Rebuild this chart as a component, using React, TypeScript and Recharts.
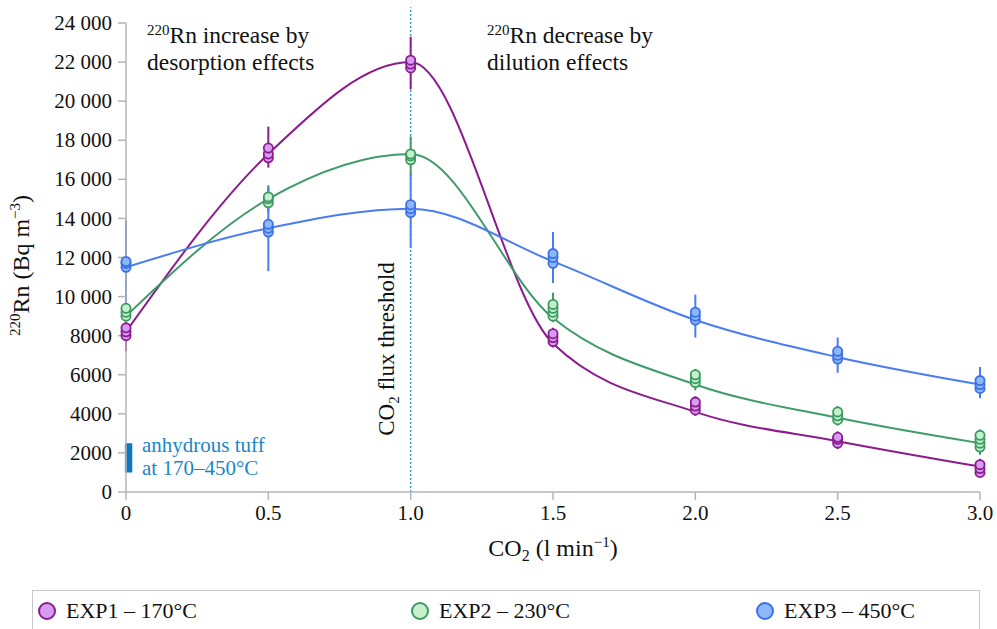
import React from "react";
import {
  ComposedChart,
  Line,
  Scatter,
  ErrorBar,
  XAxis,
  YAxis,
  ReferenceLine,
  ReferenceArea,
  Label,
} from "recharts";

// CO2 flow steps (l/min) and 220Rn activity (Bq/m3).
const CO2_FLOW = [0, 0.5, 1.0, 1.5, 2.0, 2.5, 3.0];
const Y_TICKS = [0, 2000, 4000, 6000, 8000, 10000, 12000, 14000, 16000, 18000, 20000, 22000, 24000];

// fitted curve values at each flow step
const EXP1_FIT = [8200, 17300, 22000, 7600, 4100, 2600, 1300];
const EXP2_FIT = [9000, 15000, 17300, 8900, 5500, 3800, 2500];
const EXP3_FIT = [11500, 13500, 14500, 11800, 8800, 6900, 5500];

// replicate measurements (overlapping markers)
const EXP1_REPS = [
  [8000, 8200, 8400],
  [17100, 17300, 17600],
  [21700, 21900, 22100],
  [7700, 7900, 8100],
  [4200, 4400, 4600],
  [2500, 2700, 2800],
  [1000, 1200, 1400],
];
const EXP2_REPS = [
  [9000, 9200, 9400],
  [14800, 15000, 15100],
  [17000, 17200, 17300],
  [9000, 9200, 9400, 9600],
  [5600, 5800, 6000],
  [3700, 3900, 4100],
  [2300, 2500, 2700, 2900],
];
const EXP3_REPS = [
  [11500, 11700, 11800],
  [13300, 13500, 13700],
  [14300, 14500, 14700],
  [11700, 12000, 12200],
  [8800, 9000, 9200],
  [6800, 7000, 7200],
  [5300, 5500, 5700],
];

// error bar extents (absolute low / high)
const EXP1_ERR_LOW = [7200, 16600, 20600, 7400, 3900, 2200, 800];
const EXP1_ERR_HIGH = [9000, 18700, 23300, 8400, 4900, 3100, 1700];
const EXP2_ERR_LOW = [8700, 14300, 16200, 8700, 5200, 3400, 1900];
const EXP2_ERR_HIGH = [9800, 15700, 18200, 10200, 6300, 4400, 3200];
const EXP3_ERR_LOW = [9300, 11300, 12500, 10700, 7900, 6100, 4800];
const EXP3_ERR_HIGH = [13900, 15600, 16300, 13300, 10100, 7900, 6400];

// anhydrous tuff range at x = 0
const TUFF_RANGE = [1000, 2500];
const THRESHOLD_CO2 = 1.0;

const SERIES = [
  {
    name: "EXP1 – 170°C",
    fit: EXP1_FIT,
    reps: EXP1_REPS,
    lo: EXP1_ERR_LOW,
    hi: EXP1_ERR_HIGH,
    line: "#8c1c8e",
    stroke: "#8c1c8e",
    fill: "#d49cf2",
  },
  {
    name: "EXP2 – 230°C",
    fit: EXP2_FIT,
    reps: EXP2_REPS,
    lo: EXP2_ERR_LOW,
    hi: EXP2_ERR_HIGH,
    line: "#3f9c6a",
    stroke: "#3a9a60",
    fill: "#c6f0cc",
  },
  {
    name: "EXP3 – 450°C",
    fit: EXP3_FIT,
    reps: EXP3_REPS,
    lo: EXP3_ERR_LOW,
    hi: EXP3_ERR_HIGH,
    line: "#4a7cf2",
    stroke: "#3c6fe8",
    fill: "#8cb8f7",
  },
];

const FONT = "Liberation Serif";
const AXIS = "#b4b4b4";
const TUFF_BLUE = "#1a86c8";

const W = 997;
const H = 629;

function yTick(v: number): string {
  if (v >= 10000) return `${Math.floor(v / 1000)}\u00a0000`;
  return String(v);
}

function xTick(v: number): string {
  return v === 0 ? "0" : v.toFixed(1);
}

// tick text drawn by hand so the serif face sticks
function XTick(props: any) {
  return (
    <text
      x={props.x}
      y={props.y}
      dy="0.75em"
      textAnchor="middle"
      fontFamily={FONT}
      fontSize={21}
      fill="#111"
    >
      {xTick(props.payload.value)}
    </text>
  );
}

function YTick(props: any) {
  return (
    <text
      x={props.x}
      y={props.y}
      dy="0.34em"
      textAnchor="end"
      fontFamily={FONT}
      fontSize={21}
      fill="#111"
    >
      {yTick(props.payload.value)}
    </text>
  );
}

function Marker(color: string, fill: string) {
  return (props: any) => (
    <circle
      cx={props.cx}
      cy={props.cy}
      r={4.6}
      fill={fill}
      stroke={color}
      strokeWidth={1.8}
    />
  );
}

const Empty = () => <g />;

export default function App() {
  return (
    <div
      style={{
        position: "absolute",
        left: 0,
        top: 0,
        width: W,
        height: H,
        overflow: "hidden",
        background: "#fff",
        fontFamily: FONT,
      }}
    >
      <ComposedChart
        width={W}
        height={H}
        margin={{ top: 23, right: 17, bottom: 77, left: 0 }}
      >
        <XAxis
          type="number"
          dataKey="x"
          domain={[0, 3]}
          ticks={CO2_FLOW}
          height={60}
          tickSize={8}
          tickMargin={4}
          stroke={AXIS}
          strokeWidth={1.5}
          tick={XTick}
        >
          <Label
            content={(p: any) => {
              const vb = p.viewBox;
              const cx = vb.x + vb.width / 2;
              return (
                <text
                  x={cx}
                  y={556}
                  textAnchor="middle"
                  fontFamily={FONT}
                  fontSize={24}
                  fill="#111"
                >
                  <tspan>CO</tspan>
                  <tspan fontSize={16} dy={5}>2</tspan>
                  <tspan dy={-5}> (l min</tspan>
                  <tspan fontSize={15} dy={-9}>−1</tspan>
                  <tspan dy={9}>)</tspan>
                </text>
              );
            }}
          />
        </XAxis>
        <YAxis
          type="number"
          domain={[0, 24000]}
          ticks={Y_TICKS}
          width={126}
          tickSize={8}
          tickMargin={6}
          stroke={AXIS}
          strokeWidth={1.5}
          tick={YTick}
        >
          <Label
            content={(p: any) => {
              const vb = p.viewBox;
              const cy = vb.y + vb.height / 2 + 8;
              return (
                <text
                  x={29}
                  y={cy}
                  transform={`rotate(-90 29 ${cy})`}
                  textAnchor="middle"
                  fontFamily={FONT}
                  fontSize={24}
                  fill="#111"
                >
                  <tspan fontSize={15} dy={-9}>220</tspan>
                  <tspan dy={9}>Rn (Bq m</tspan>
                  <tspan fontSize={15} dy={-9}>−3</tspan>
                  <tspan dy={9}>)</tspan>
                </text>
              );
            }}
          />
        </YAxis>

        <ReferenceLine
          segment={[
            { x: THRESHOLD_CO2, y: 0 },
            { x: THRESHOLD_CO2, y: 24800 },
          ]}
          ifOverflow="visible"
          stroke="#2a9fd8"
          strokeWidth={1.4}
          strokeDasharray="2 2"
        />
        <ReferenceArea
          x1={-0.004}
          x2={0.022}
          y1={TUFF_RANGE[0]}
          y2={TUFF_RANGE[1]}
          fill="#0a78c2"
          fillOpacity={1}
          stroke="none"
          ifOverflow="visible"
        />

        {SERIES.map((s) => (
          <Scatter
            key={s.name + "-err"}
            data={CO2_FLOW.map((x, i) => ({
              x,
              y: s.fit[i],
              err: [s.fit[i] - s.lo[i], s.hi[i] - s.fit[i]],
            }))}
            dataKey="y"
            shape={Empty}
            isAnimationActive={false}
            legendType="none"
          >
            <ErrorBar
              dataKey="err"
              direction="y"
              width={0}
              stroke={s.line}
              strokeWidth={2}
              isAnimationActive={false}
            />
          </Scatter>
        ))}

        {SERIES.map((s) => (
          <Line
            key={s.name + "-fit"}
            data={CO2_FLOW.map((x, i) => ({ x, y: s.fit[i] }))}
            dataKey="y"
            type="monotone"
            stroke={s.line}
            strokeWidth={2}
            dot={false}
            activeDot={false}
            isAnimationActive={false}
          />
        ))}

        {SERIES.map((s) => (
          <Scatter
            key={s.name + "-pts"}
            data={CO2_FLOW.flatMap((x, i) => s.reps[i].map((y) => ({ x, y })))}
            dataKey="y"
            shape={Marker(s.stroke, s.fill)}
            isAnimationActive={false}
          />
        ))}
      </ComposedChart>

      {/* annotations */}
      <svg
        width={W}
        height={H}
        style={{ position: "absolute", left: 0, top: 0, pointerEvents: "none" }}
      >
        <text x={147} y={43} fontFamily={FONT} fontSize={23.5} fill="#111">
          <tspan fontSize={15} dy={-8}>220</tspan>
          <tspan dy={8}>Rn increase by</tspan>
        </text>
        <text x={147} y={70} fontFamily={FONT} fontSize={23.5} fill="#111">
          desorption effects
        </text>
        <text x={487} y={43} fontFamily={FONT} fontSize={23.5} fill="#111">
          <tspan fontSize={15} dy={-8}>220</tspan>
          <tspan dy={8}>Rn decrease by</tspan>
        </text>
        <text x={487} y={70} fontFamily={FONT} fontSize={23.5} fill="#111">
          dilution effects
        </text>
        <text
          x={394}
          y={349}
          transform="rotate(-90 394 349)"
          textAnchor="middle"
          fontFamily={FONT}
          fontSize={23}
          fill="#111"
        >
          <tspan>CO</tspan>
          <tspan fontSize={15} dy={5}>2</tspan>
          <tspan dy={-5}> flux threshold</tspan>
        </text>
        <text x={142} y={452} fontFamily={FONT} fontSize={21} fill={TUFF_BLUE}>
          anhydrous tuff
        </text>
        <text x={142} y={475} fontFamily={FONT} fontSize={21} fill={TUFF_BLUE}>
          at 170–450°C
        </text>
      </svg>

      {/* legend */}
      <div
        style={{
          position: "absolute",
          left: 32,
          top: 590,
          width: 948,
          height: 60,
          border: "1px solid #c8c8c8",
          boxSizing: "border-box",
        }}
      >
        {SERIES.map((s, i) => (
          <div
            key={s.name}
            style={{
              position: "absolute",
              left: [3, 376, 721][i],
              top: 7,
              display: "flex",
              alignItems: "center",
              gap: 8,
              fontSize: 22,
              fontFamily: FONT,
              color: "#111",
              whiteSpace: "nowrap",
            }}
          >
            <svg width={22} height={22}>
              <circle cx={11} cy={11} r={8} fill={s.fill} stroke={s.stroke} strokeWidth={2} />
            </svg>
            <span>{s.name}</span>
          </div>
        ))}
      </div>
    </div>
  );
}
